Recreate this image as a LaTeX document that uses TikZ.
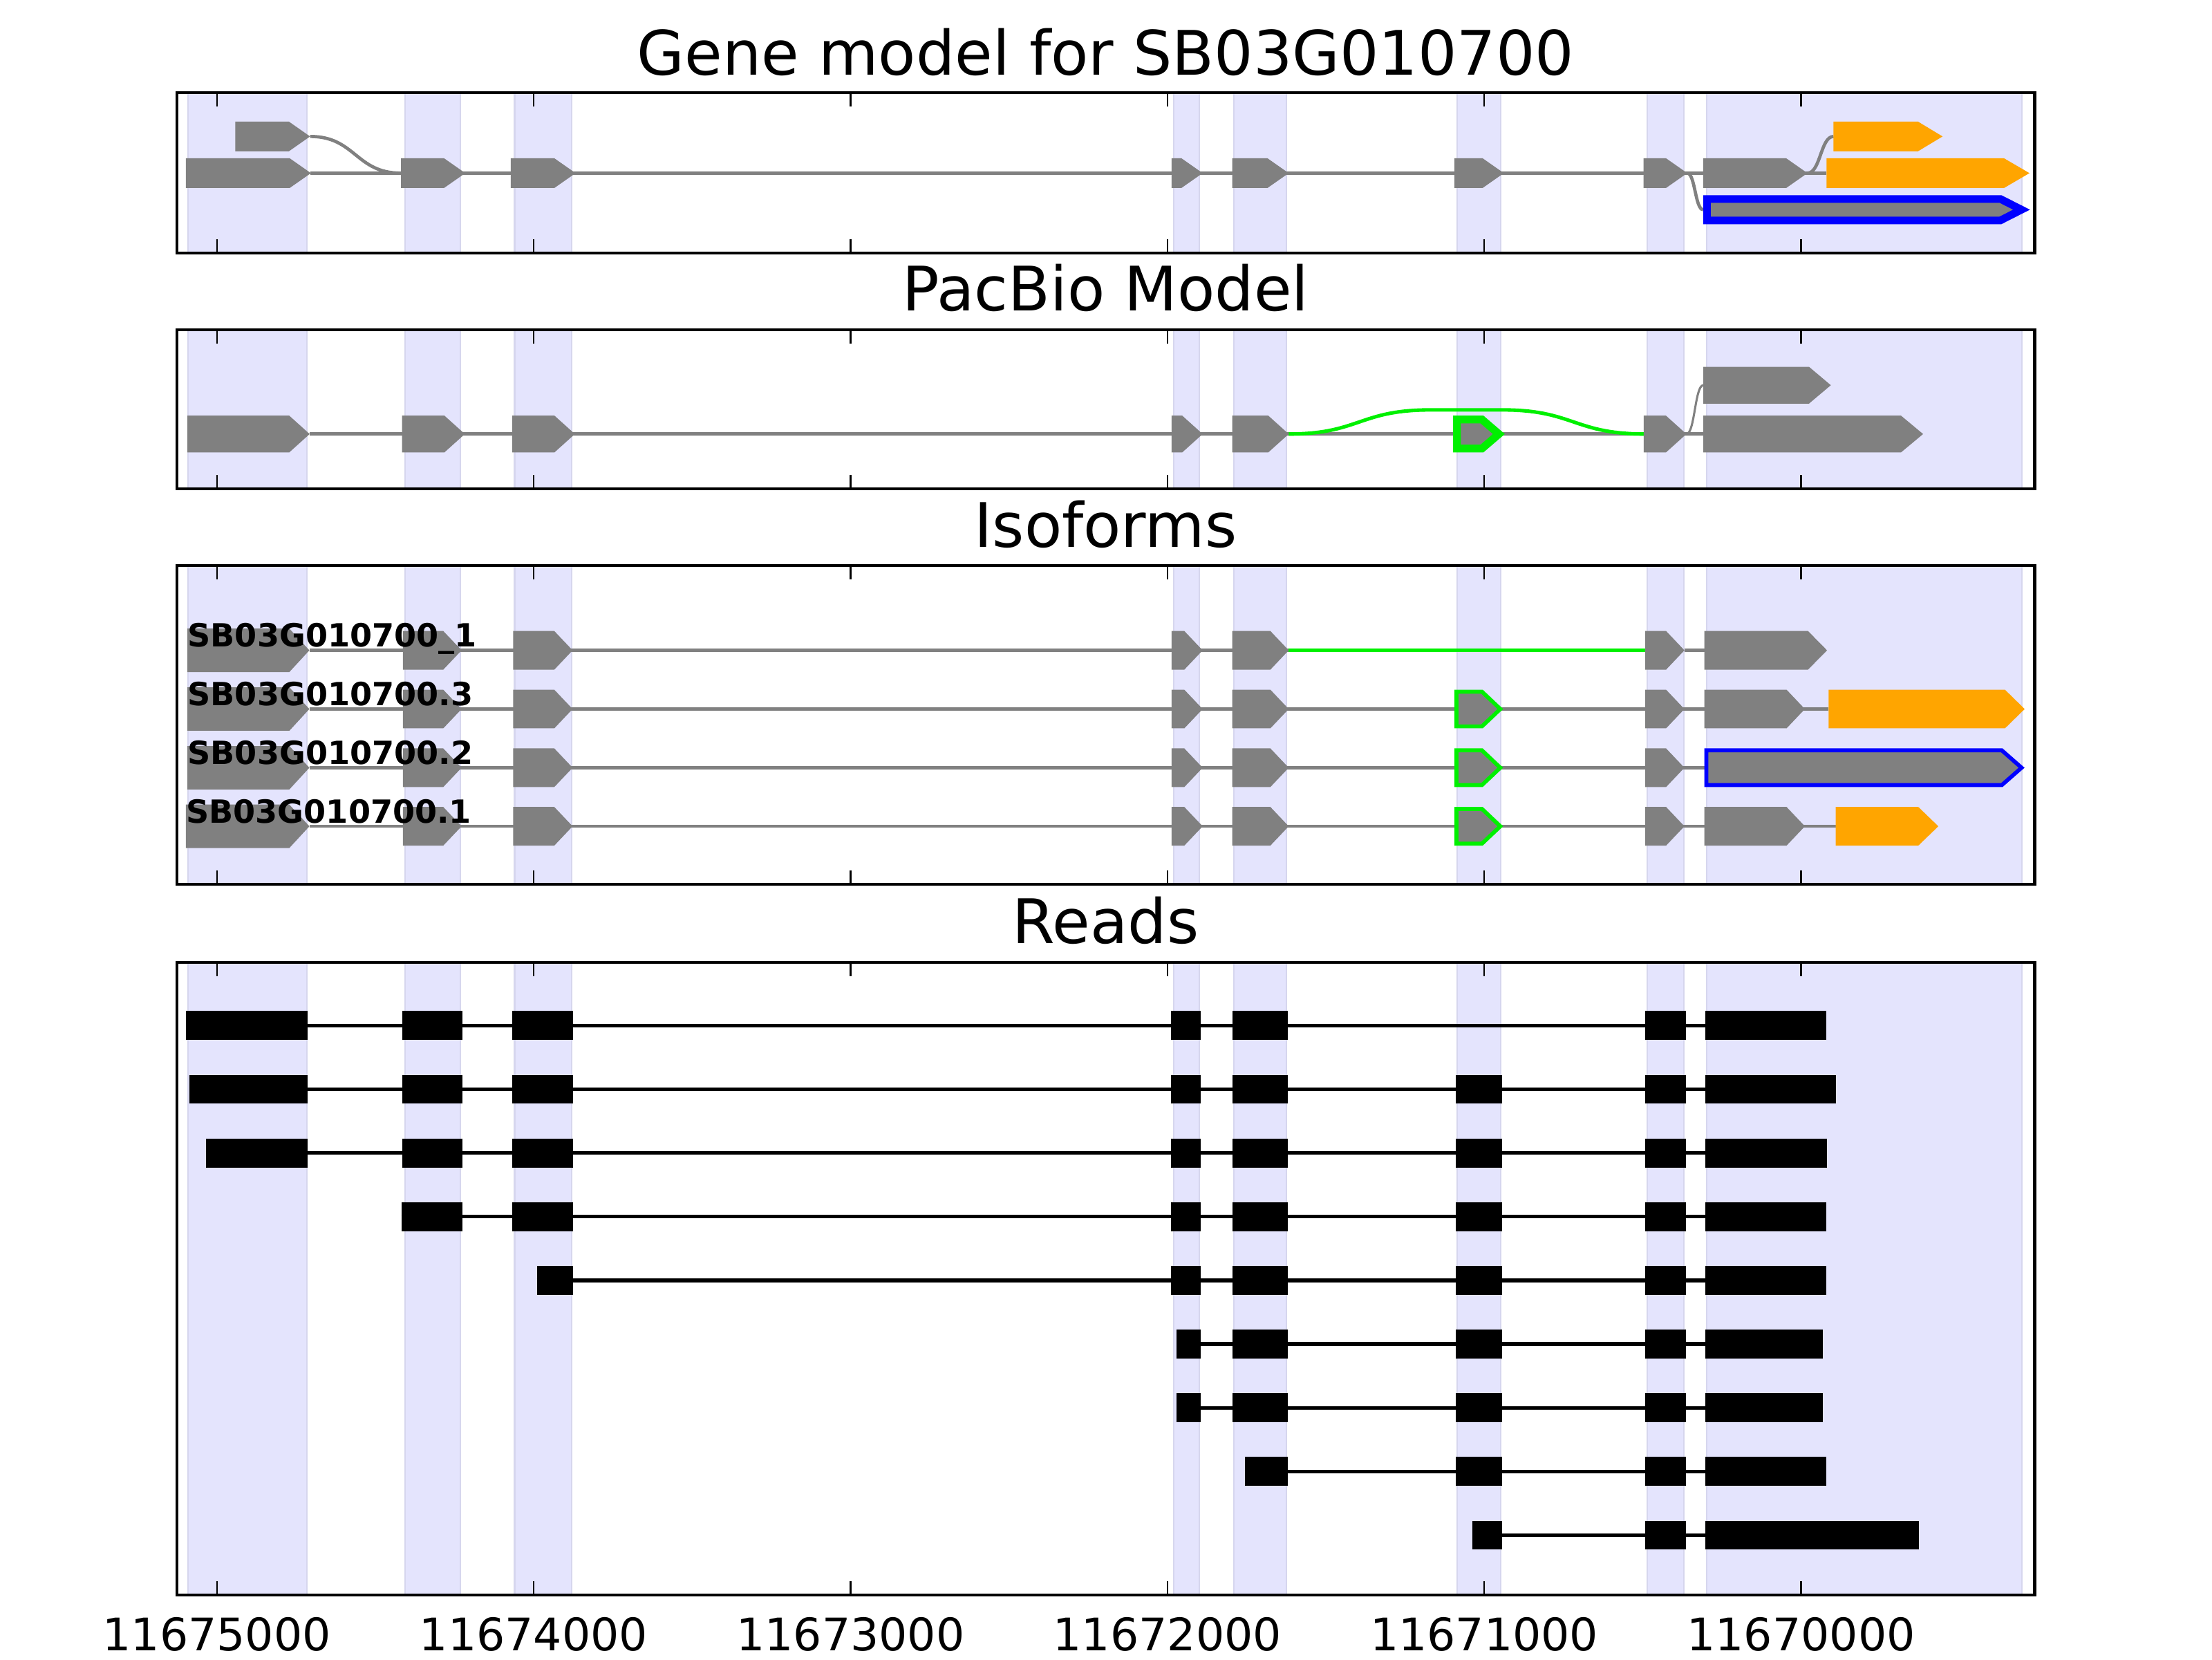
\documentclass[tikz,border=0pt]{standalone}
\usepackage{fontspec}
\setmainfont{DejaVu Sans}
\definecolor{bandfill}{RGB}{228,228,253}
\definecolor{bandedge}{RGB}{214,214,238}
\definecolor{exgray}{RGB}{128,128,128}
\definecolor{orng}{RGB}{255,165,0}
\definecolor{greenln}{RGB}{0,240,0}
\definecolor{blueln}{RGB}{0,0,255}
\newcommand{\ex}[6]{\path[#1] (#2,{#4-(#5)/2}) -- ({#3-(#6)},{#4-(#5)/2}) -- (#3,#4) -- ({#3-(#6)},{#4+(#5)/2}) -- (#2,{#4+(#5)/2}) -- cycle;}
\newcommand{\rd}[3]{\fill[black] (#1,{#3-10.25}) rectangle (#2,{#3+10.25});}
\tikzset{
  gline/.style={draw=exgray, line width=2.3pt},
  thinline/.style={draw=exgray, line width=1.5pt},
  grline/.style={draw=greenln, line width=2.5pt},
  rline/.style={draw=black, line width=2.6pt},
  gex/.style={fill=exgray},
  oex/.style={fill=orng},
  frame/.style={draw=black, line width=2pt},
  tick/.style={draw=black, line width=1.1pt},
  title/.style={font=\fontsize{43.5}{50}\selectfont, anchor=base, inner sep=0pt},
  ticklab/.style={font=\fontsize{31.8}{38}\selectfont, anchor=base, inner sep=0pt},
  isolab/.style={font=\bfseries\fontsize{22.6}{26}\selectfont, anchor=base west, inner sep=0pt},
}
\begin{document}
\begin{tikzpicture}[x=1pt,y=-1pt]
\useasboundingbox[fill=white] (0,0) rectangle (1568,1176);
% ---------- shaded exon bands and ticks ----------
\foreach \t/\b in {65.5/179.3, 233.8/346.3, 401/626.9, 682/1130.5}{
  \foreach \xa/\xb in {133.5/217.5, 287/326.5, 364.8/405.2, 832/850.3, 874.7/911.7, 1032.7/1063.6, 1167.7/1193.7, 1209.9/1433}{
    \fill[bandfill] (\xa,\t) rectangle (\xb,\b);
    \draw[bandedge, line width=1pt] (\xa,\t) -- (\xa,\b) (\xb,\t) -- (\xb,\b);
  }
  \foreach \k in {0,...,5}{
    \draw[tick] ({153.7+224.6*\k},\t) -- ++(0,9.8);
    \draw[tick] ({153.7+224.6*\k},\b) -- ++(0,-9.8);
  }
}
% ---------- titles ----------
\node[title] (t1) at (783.8,53.1) {Gene model for SB03G010700};
\node[title] (t2) at (783.8,220.2) {PacBio Model};
\node[title] (t3) at (783.8,387.6) {Isoforms};
\node[title] (t4) at (783.8,668.6) {Reads};
% ---------- tick labels ----------
\foreach \k/\lab in {0/11675000,1/11674000,2/11673000,3/11672000,4/11671000,5/11670000}{
  \node[ticklab] (l\k) at ({153.7+224.6*\k},1169.8) {\lab};
}
% ================= Panel 1: gene model =================
\draw[gline] (219.8,122.7) -- (1294.8,122.7);
\draw[gline] (219.8,96.7) .. controls (252,96.7) and (252,122.7) .. (284.3,122.7);
\draw[gline] (1196,122.7) .. controls (1201.6,122.7) and (1201.6,148.6) .. (1207.3,148.6);
\draw[gline] (1281.2,122.7) .. controls (1290.5,122.7) and (1290.5,96.7) .. (1299.7,96.7);
\ex{gex}{166.8}{219.8}{96.7}{21}{15}
\ex{oex}{1299.7}{1377}{96.7}{21}{17.4}
\foreach \xa/\xb in {131.8/220.4, 284.3/329.8, 362/408, 830.5/852.5, 873.5/913.5, 1031/1066, 1165/1196, 1207.3/1281.2}{
  \ex{gex}{\xa}{\xb}{122.7}{21}{15}
}
\ex{oex}{1294.8}{1438.6}{122.7}{21}{18}
\ex{fill=exgray, draw=blueln, line width=5.4pt}{1210}{1433}{148.6}{15.2}{15}
% ================= Panel 2: PacBio =================
\draw[gline] (219.5,307.6) -- (1207.4,307.6);
\draw[grline] (913.5,307.6) .. controls (963.5,307.6) and (963.5,290.5) .. (1014,290.5) -- (1065,290.5) .. controls (1115.5,290.5) and (1115.5,307.6) .. (1166,307.6);
\draw[thinline] (1195.4,307.6) .. controls (1201.4,307.6) and (1201.4,273) .. (1207.4,273);
\foreach \xa/\xb in {132.9/219.5, 285/329.5, 363/407.5, 830.5/852.5, 873.5/913.5, 1165.1/1195.4}{
  \ex{gex}{\xa}{\xb}{307.6}{26.1}{14.5}
}
\ex{gex}{1207.4}{1363.2}{307.6}{26.1}{15.7}
\ex{gex}{1207.4}{1297.8}{273}{26.1}{15.5}
\ex{fill=exgray, draw=greenln, line width=5.5pt}{1032.75}{1062.5}{307.6}{20.6}{12}
% ================= Panel 3: isoforms =================
% row 1
\draw[gline] (219.3,460.9) -- (913.5,460.9);
\draw[grline] (913.5,460.9) -- (1166.3,460.9);
\draw[gline] (1194,460.9) -- (1208.2,460.9);
% rows 2-4
\draw[gline] (219.3,502.5) -- (1296.2,502.5);
\draw[gline] (219.3,544.1) -- (1209.6,544.1);
\draw[gline] (219.3,585.6) -- (1303.9,585.6);
\foreach \y/\s in {460.9/132.9, 502.5/132.9, 544.1/132.9, 585.6/131.8}{
  \ex{gex}{\s}{219.3}{\y}{30.8}{14.2}
  \foreach \xa/\xb in {285.6/327.2, 363.7/405.9, 830.5/852.5, 873.5/913.5, 1166.3/1194}{
    \ex{gex}{\xa}{\xb}{\y}{27.4}{13}
  }
}
\ex{gex}{1208.2}{1295.1}{460.9}{27.4}{13.5}
\foreach \y in {502.5, 544.1, 585.6}{
  \ex{fill=exgray, draw=greenln, line width=2.8pt}{1032.4}{1063.5}{\y}{24.6}{13}
}
\ex{gex}{1208.2}{1279.4}{502.5}{27.4}{13}
\ex{oex}{1296.2}{1435.2}{502.5}{27.4}{14}
\ex{fill=exgray, draw=blueln, line width=2.8pt}{1209.6}{1433}{544.1}{24.6}{14}
\ex{gex}{1208.2}{1279.4}{585.6}{27.4}{13}
\ex{oex}{1301.2}{1374}{585.6}{27.4}{14.2}
\node[isolab] (n1) at (132.9,458.6) {SB03G010700\_1};
\node[isolab] (n2) at (132.9,500.2) {SB03G010700.3};
\node[isolab] (n3) at (132.9,541.8) {SB03G010700.2};
\node[isolab] (n4) at (131.8,583.3) {SB03G010700.1};
% ================= Panel 4: reads =================
% row 1
\draw[rline] (131.8,726.8) -- (1294.8,726.8);
\foreach \xa/\xb in {131.8/218.2, 285.4/328, 363.2/406.4, 830.1/851.2, 873.5/912.9, 1166.4/1194.9, 1208.7/1294.8}{\rd{\xa}{\xb}{726.8}}
% row 2
\draw[rline] (134.4,772) -- (1301.3,772);
\foreach \xa/\xb in {134.4/218.2, 285.4/328, 363.2/406.4, 830.1/851.2, 873.5/912.9, 1032/1064.9, 1166.4/1194.9, 1208.7/1301.3}{\rd{\xa}{\xb}{772}}
% row 3
\draw[rline] (146,817.1) -- (1295.2,817.1);
\foreach \xa/\xb in {146/218.2, 285.4/328, 363.2/406.4, 830.1/851.2, 873.5/912.9, 1032/1064.9, 1166.4/1194.9, 1208.7/1295.2}{\rd{\xa}{\xb}{817.1}}
% row 4
\draw[rline] (284.5,862.3) -- (1294.4,862.3);
\foreach \xa/\xb in {284.5/328, 363.2/406.4, 830.1/851.2, 873.5/912.9, 1032/1064.9, 1166.4/1194.9, 1208.7/1294.4}{\rd{\xa}{\xb}{862.3}}
% row 5
\draw[rline] (380.5,907.4) -- (1294.4,907.4);
\foreach \xa/\xb in {380.5/406.4, 830.1/851.2, 873.5/912.9, 1032/1064.9, 1166.4/1194.9, 1208.7/1294.4}{\rd{\xa}{\xb}{907.4}}
% row 6
\draw[rline] (834,952.6) -- (1292,952.6);
\foreach \xa/\xb in {834/851.2, 873.5/912.9, 1032/1064.9, 1166.4/1194.9, 1208.7/1292}{\rd{\xa}{\xb}{952.6}}
% row 7
\draw[rline] (834,997.7) -- (1292,997.7);
\foreach \xa/\xb in {834/851.2, 873.5/912.9, 1032/1064.9, 1166.4/1194.9, 1208.7/1292}{\rd{\xa}{\xb}{997.7}}
% row 8
\draw[rline] (882.4,1042.9) -- (1294.8,1042.9);
\foreach \xa/\xb in {882.4/912.9, 1032/1064.9, 1166.4/1194.9, 1208.7/1294.8}{\rd{\xa}{\xb}{1042.9}}
% row 9
\draw[rline] (1043.7,1088) -- (1360.2,1088);
\foreach \xa/\xb in {1043.7/1064.9, 1166.4/1194.9, 1208.7/1360.2}{\rd{\xa}{\xb}{1088}}
% ---------- frames ----------
\foreach \t/\b in {65.5/179.3, 233.8/346.3, 401/626.9, 682/1130.5}{
  \draw[frame] (125.3,\t) rectangle (1442.3,\b);
}
\end{tikzpicture}
\end{document}
